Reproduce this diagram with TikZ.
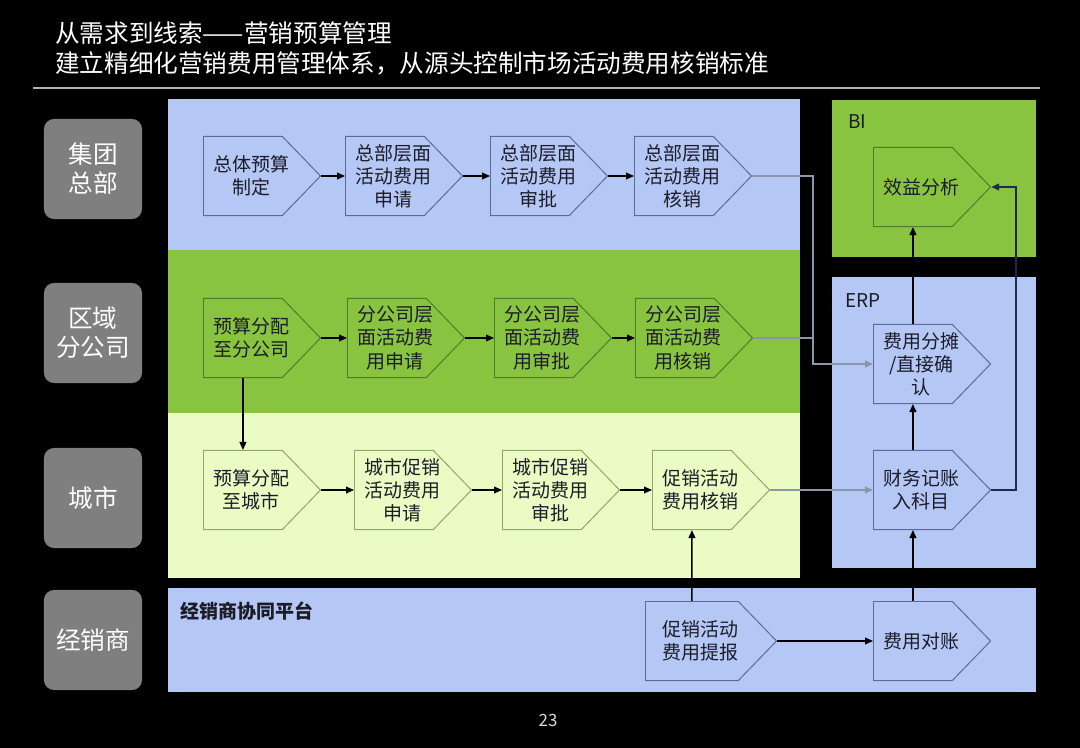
\documentclass[tikz,border=0pt]{standalone}
\usepackage{fontspec}
\setmainfont{Noto Sans CJK SC}
\usepackage{xcolor}
\definecolor{bandblue}{HTML}{B4C7F5}
\definecolor{bandgreen}{HTML}{89C440}
\definecolor{bandlime}{HTML}{EAFCC4}
\definecolor{edgeblue}{HTML}{5A6A9C}
\definecolor{edgegreen}{HTML}{4F7D2A}
\definecolor{edgelime}{HTML}{8DA868}
\definecolor{lanegray}{HTML}{7F7F7F}
\definecolor{linkgray}{HTML}{8C96A8}
\definecolor{linknavy}{HTML}{1E2A4A}
\definecolor{inkdark}{HTML}{1C1C28}
\usetikzlibrary{shapes.symbols,arrows.meta,calc}

\begin{document}
\begin{tikzpicture}[
  x=0.025cm,y=-0.025cm,
  chev/.style={signal,signal to=east,signal pointer angle=92,draw=#1,
               line width=0.7pt,minimum width=2.925cm,minimum height=1.975cm,
               inner sep=1pt,anchor=west},
  boxtext/.style={align=center,text=inkdark,inner sep=0pt,xshift=0.21cm,
                  font=\fontsize{13.5}{16.5}\selectfont},
  say/.style={label={[boxtext]center:{#1}}},
  lane/.style={rectangle,fill=lanegray,rounded corners=0.25cm,
               minimum width=2.45cm,minimum height=2.5cm,align=center,
               text=white,font=\fontsize{17.5}{20.5}\selectfont},
  tag/.style={anchor=west,text=inkdark,inner sep=0pt,
              font=\fontsize{13.5}{15}\selectfont},
  arr/.style={-{Triangle[length=2mm,width=1.7mm]},line width=1pt,black},
  grayarr/.style={-{Triangle[length=2mm,width=1.7mm]},line width=1pt,linkgray},
  loop/.style={-{Triangle[length=2mm,width=1.7mm]},line width=1pt,linknavy}
]

% page and bands
\fill[black] (0,0) rectangle (1080,748);
\useasboundingbox (0,0) rectangle (1080,748);
\fill[bandblue]  (168,99)  rectangle (800,250);
\fill[bandgreen] (168,250) rectangle (800,413);
\fill[bandlime]  (168,413) rectangle (800,578);
\fill[bandblue]  (168,588) rectangle (1036,692);
\fill[bandgreen] (832,100) rectangle (1036,257);
\fill[bandblue]  (832,277) rectangle (1036,568);

% title
\node[anchor=west,text=white,align=left,inner sep=0pt,
      font=\fontsize{17.5}{21.3}\selectfont] (title) at (55,48)
  {从需求到线索——营销预算管理\\建立精细化营销费用管理体系，从源头控制市场活动费用核销标准};
\draw[gray!60,line width=1pt] (33,88) -- (1040,88);

% lanes
\node[lane] (hq)     at (93,169) {集团\\总部};
\node[lane] (region) at (93,333) {区域\\分公司};
\node[lane] (city)   at (93,498) {城市};
\node[lane] (dealer) at (93,640) {经销商};

\node[tag] (bi)  at (848,122) {BI};
\node[tag] (erp) at (845,301) {ERP};
\node[tag,font=\fontsize{13.5}{15}\selectfont\bfseries] (plat) at (180,611) {经销商协同平台};

% headquarters row
\node[chev=edgeblue,say={总体预算\\制定}]           (hq1) at (203,176) {};
\node[chev=edgeblue,say={总部层面\\活动费用\\申请}] (hq2) at (345,176) {};
\node[chev=edgeblue,say={总部层面\\活动费用\\审批}] (hq3) at (490,176) {};
\node[chev=edgeblue,say={总部层面\\活动费用\\核销}] (hq4) at (634,176) {};

% branch row
\node[chev=edgegreen,say={预算分配\\至分公司}]         (br1) at (203,338) {};
\node[chev=edgegreen,say={分公司层\\面活动费\\用申请}] (br2) at (347,338) {};
\node[chev=edgegreen,say={分公司层\\面活动费\\用审批}] (br3) at (494,338) {};
\node[chev=edgegreen,say={分公司层\\面活动费\\用核销}] (br4) at (635,338) {};

% city row
\node[chev=edgelime,say={预算分配\\至城市}]         (ct1) at (203,490) {};
\node[chev=edgelime,say={城市促销\\活动费用\\申请}] (ct2) at (354,490) {};
\node[chev=edgelime,say={城市促销\\活动费用\\审批}] (ct3) at (502,490) {};
\node[chev=edgelime,say={促销活动\\费用核销}]       (ct4) at (652,490) {};

% dealer row
\node[chev=edgeblue,minimum width=3.275cm,say={促销活动\\费用提报}] (claim) at (645,641) {};
\node[chev=edgeblue,say={费用对账}] (check) at (873,641) {};

% ERP and BI
\node[chev=edgeblue,say={财务记账\\入科目}]       (post)  at (873,490) {};
\node[chev=edgeblue,say={费用分摊\\/直接确\\认}]  (alloc) at (873,364) {};
\node[chev=edgegreen,say={效益分析}]              (roi)   at (873,187) {};

\coordinate (merge) at (813,0);
\coordinate (back)  at (1016,0);

\draw[arr] (hq1.east) -- (hq2.west);
\draw[arr] (hq2.east) -- (hq3.west);
\draw[arr] (hq3.east) -- (hq4.west);
\draw[arr] (br1.east) -- (br2.west);
\draw[arr] (br2.east) -- (br3.west);
\draw[arr] (br3.east) -- (br4.west);
\draw[arr] (ct1.east) -- (ct2.west);
\draw[arr] (ct2.east) -- (ct3.west);
\draw[arr] (ct3.east) -- (ct4.west);
\draw[arr] (br1.south) -- (ct1.north);
\draw[arr] (claim.north) -- (ct4.south);
\draw[arr] (claim.east) -- (check.west);
\draw[arr] (check.north) -- (post.south);
\draw[arr] (post.north) -- (alloc.south);
\draw[arr] (alloc.north) -- (roi.south);

\draw[grayarr] (hq4.east) -| (merge |- alloc.west) -- (alloc.west);
\draw[line width=1pt,linkgray] (br4.east) -- (merge |- br4.east);
\draw[grayarr] (ct4.east) -- (post.west);
\draw[loop] (post.east) -- (back |- post.east) |- (roi.east);

\node[text=white!85!black,font=\fontsize{12}{14}\selectfont] (page) at (548,720) {23};

\end{tikzpicture}
\end{document}
